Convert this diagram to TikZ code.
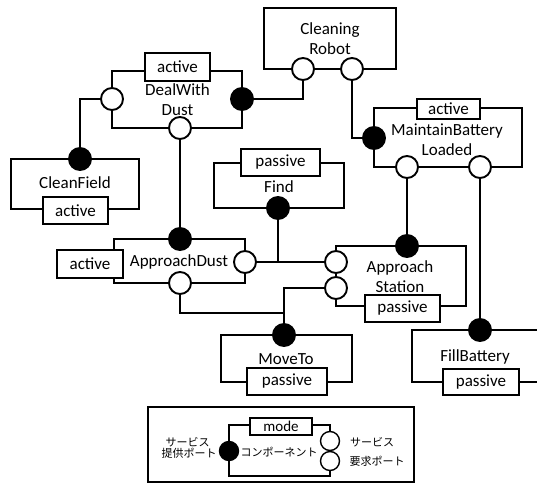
\documentclass[tikz,border=0pt]{standalone}
\usepackage{fontspec}
\setmainfont{Carlito}
\newfontfamily\jpfont{Noto Sans CJK JP}
\begin{document}
\begin{tikzpicture}[x=1pt,y=-1pt,
  comp/.style={draw, line width=2.1pt, inner sep=0pt},
  modebox/.style={draw, fill=white, line width=2.1pt, inner sep=0pt, font=\fontsize{17}{20}\selectfont},
  lbl/.style={align=center, font=\fontsize{17}{20}\selectfont, inner sep=0pt},
  oport/.style={circle, draw, fill=white, line width=1.9pt, minimum size=22pt, inner sep=0pt},
  fport/.style={circle, draw, fill=black, line width=1.9pt, minimum size=22pt, inner sep=0pt},
  wire/.style={line width=2.1pt},
  lgbox/.style={draw, line width=1.3pt, inner sep=0pt},
  lgo/.style={circle, draw, fill=white, line width=1.4pt, minimum size=19pt, inner sep=0pt},
  lgf/.style={circle, draw, fill=black, line width=1.4pt, minimum size=19pt, inner sep=0pt},
  jptext/.style={align=center, inner sep=0pt, font=\jpfont\fontsize{11}{12}\selectfont},
]
\useasboundingbox (0,0) rectangle (537,484);
\clip (0,0) rectangle (537,484);

% component boxes
\node[comp, minimum width=132pt, minimum height=61pt] (robot) at (330,38.5) {};
\node[comp, minimum width=130pt, minimum height=57pt] (dwd) at (177,99.5) {};
\node[comp, minimum width=128pt, minimum height=50pt] (cf) at (75,184) {};
\node[comp, minimum width=130pt, minimum height=45pt] (find) at (279,185.5) {};
\node[comp, minimum width=148pt, minimum height=59pt] (mbl) at (448,137.5) {};
\node[comp, minimum width=131pt, minimum height=44pt] (ad) at (179.5,261) {};
\node[comp, minimum width=130pt, minimum height=60pt] (as) at (401,276) {};
\node[comp, minimum width=131pt, minimum height=47pt] (mt) at (286.5,358.5) {};
\node[comp, minimum width=148pt, minimum height=52pt] (fb) at (486,356) {};

% labels
\node[lbl] (robotT) at (330,39) {Cleaning\\Robot};
\node[lbl] (dwdT) at (177.5,100) {DealWith\\Dust};
\node[lbl] (mblT) at (447,140) {MaintainBattery\\Loaded};
\node[lbl] (cfT) at (75,183) {CleanField};
\node[lbl] (findT) at (279,187) {Find};
\node[lbl] (adT) at (179,262) {ApproachDust};
\node[lbl] (asT) at (400,276.5) {Approach\\Station};
\node[lbl] (mtT) at (286,359) {MoveTo};
\node[lbl] (fbT) at (475,357) {FillBattery};

% ports
\node[oport] (r1) at (303,69) {};
\node[oport] (r2) at (352,69) {};
\node[oport] (dwdL) at (112,99) {};
\node[fport] (dwdR) at (242,99) {};
\node[oport] (dwdB) at (180,128) {};
\node[fport] (cfP) at (80,159) {};
\node[fport] (findP) at (278,208) {};
\node[fport] (mblL) at (374,138) {};
\node[oport] (mblB1) at (407,167) {};
\node[oport] (mblB2) at (480,167) {};
\node[fport] (adTop) at (180,239) {};
\node[oport] (adR) at (245,262) {};
\node[oport] (adB) at (180,283) {};
\node[fport] (asTop) at (407,246) {};
\node[oport] (asL1) at (336,262) {};
\node[oport] (asL2) at (336,288) {};
\node[fport] (mtP) at (284,335) {};
\node[fport] (fbP) at (480,330) {};

\coordinate (j1) at (findP |- adR);
\coordinate (j2) at (284,313);

% connectors
\draw[wire] (r1) |- (dwdR);
\draw[wire] (r2) |- (mblL);
\draw[wire] (dwdL) -| (cfP);
\draw[wire] (dwdB) -- (adTop);
\draw[wire] (mblB1) -- (asTop);
\draw[wire] (mblB2) -- (fbP);
\draw[wire] (adR) -- (asL1);
\draw[wire] (findP) -- (j1);
\draw[wire] (asL2) -| (mtP);
\draw[wire] (adB) |- (j2);

% mode boxes
\node[modebox, minimum width=65pt, minimum height=28pt] (dwdM) at (177.5,67) {active};
\node[modebox, minimum width=65pt, minimum height=27pt] (cfM) at (75.5,210.5) {active};
\node[modebox, minimum width=79pt, minimum height=27pt] (findM) at (280.5,162.5) {passive};
\node[modebox, minimum width=63pt, minimum height=20pt] (mblM) at (448.5,109) {active};
\node[modebox, minimum width=66pt, minimum height=28pt] (adM) at (90,264) {active};
\node[modebox, minimum width=75pt, minimum height=27pt] (asM) at (402.5,308.5) {passive};
\node[modebox, minimum width=80pt, minimum height=27pt] (mtM) at (287,381.5) {passive};
\node[modebox, minimum width=76pt, minimum height=26pt] (fbM) at (481,382) {passive};

% legend
\node[lgbox, minimum width=266pt, minimum height=75pt] (legend) at (281,444.5) {};
\node[lgbox, minimum width=101pt, minimum height=51pt] (lgcomp) at (279.5,450.5) {};
\node[lgbox, fill=white, minimum width=62pt, minimum height=17pt, font=\fontsize{15}{18}\selectfont] (lgmode) at (281,426.5) {mode};
\node[lgf] (lgP) at (229,451) {};
\node[lgo] (lgR1) at (330,441) {};
\node[lgo] (lgR2) at (330,461) {};
\node[jptext] (lgprov1) at (187.5,442) {サービス};
\node[jptext] (lgprov2) at (189,453.5) {提供ポート};
\node[jptext, fill=white] (lgcompT) at (279,452) {コンポーネント};
\node[jptext] (lgreq1) at (372,442) {サービス};
\node[jptext] (lgreq2) at (377,461) {要求ポート};
\end{tikzpicture}
\end{document}
